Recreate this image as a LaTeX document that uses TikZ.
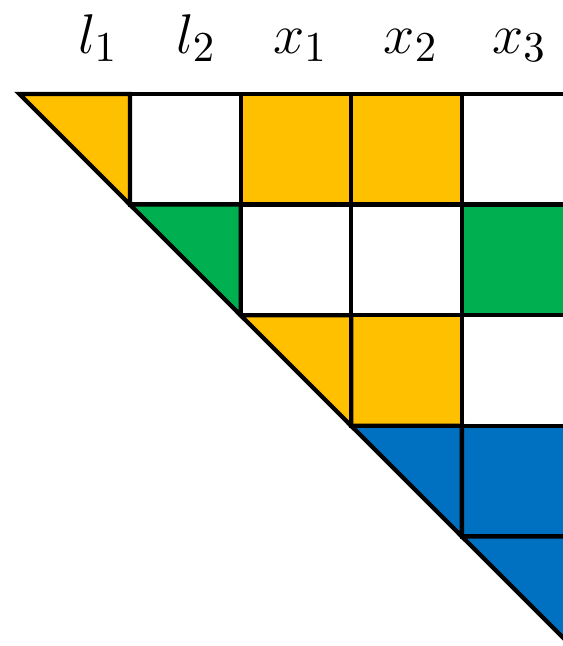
\documentclass[tikz,border=0pt]{standalone}
\usetikzlibrary{positioning}
\definecolor{gold}{RGB}{255,192,0}
\definecolor{grass}{RGB}{0,176,80}
\definecolor{sea}{RGB}{0,112,192}
\tikzset{
  cell/.style={draw=black,line width=1.1pt,fill=#1},
  cell/.default=white,
  head/.style={font=\fontsize{15}{18}\selectfont,inner sep=0pt,anchor=base}
}
\begin{document}
\begin{tikzpicture}
  \clip (-0.176,0.85) rectangle (4.914,-4.991);
  % full cells
  \foreach \c/\r/\col in {1/0/white,2/0/gold,3/0/gold,4/0/white,
                          2/1/white,3/1/white,4/1/grass,
                          3/2/gold,4/2/white,
                          4/3/sea}
    \draw[cell=\col] (\c,-\r) rectangle ++(1,-1);
  % diagonal half cells
  \foreach \c/\col in {0/gold,1/grass,2/gold,3/sea,4/sea}
    \draw[cell=\col] (\c,-\c) -- ++(1,0) -- ++(0,-1) -- cycle;
  % column heads
  \node[head] (l1) at (0.71,0.37) {$l_1$};
  \node[head] (l2) at (1.60,0.37) {$l_2$};
  \node[head] (x1) at (2.54,0.37) {$x_1$};
  \node[head] (x2) at (3.54,0.37) {$x_2$};
  \node[head] (x3) at (4.52,0.37) {$x_3$};
\end{tikzpicture}
\end{document}
